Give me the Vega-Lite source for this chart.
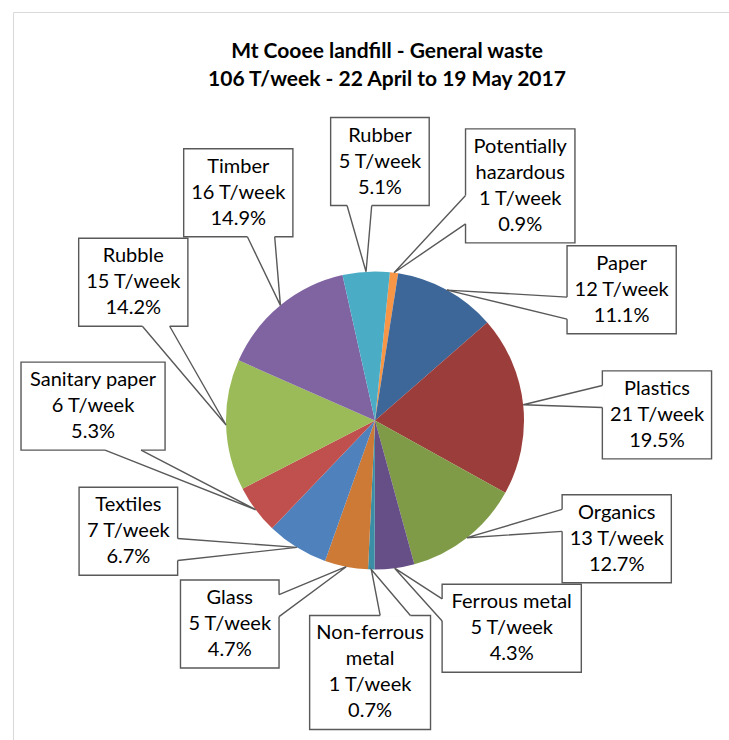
{
  "$schema": "https://vega.github.io/schema/vega-lite/v6.json",
  "width": 716,
  "height": 728,
  "autosize": {"type": "none"},
  "padding": {"left": 13, "top": 12, "right": 0, "bottom": 0},
  "background": "white",
  "title": {
    "text": ["Mt Cooee landfill - General waste", "106 T/week - 22 April to 19 May 2017"],
    "font": "Lato",
    "fontSize": 21,
    "fontWeight": "bold",
    "color": "#000000",
    "anchor": "middle",
    "frame": "group",
    "offset": -78,
    "dx": 16,
    "lineHeight": 28
  },
  "data": {
    "values": [
      {"category": "Potentially hazardous", "tonnes": 1, "pct": 0.9},
      {"category": "Paper", "tonnes": 12, "pct": 11.1},
      {"category": "Plastics", "tonnes": 21, "pct": 19.5},
      {"category": "Organics", "tonnes": 13, "pct": 12.7},
      {"category": "Ferrous metal", "tonnes": 5, "pct": 4.3},
      {"category": "Non-ferrous metal", "tonnes": 1, "pct": 0.7},
      {"category": "Glass", "tonnes": 5, "pct": 4.7},
      {"category": "Textiles", "tonnes": 7, "pct": 6.7},
      {"category": "Sanitary paper", "tonnes": 6, "pct": 5.3},
      {"category": "Rubble", "tonnes": 15, "pct": 14.2},
      {"category": "Timber", "tonnes": 16, "pct": 14.9},
      {"category": "Rubber", "tonnes": 5, "pct": 5.1}
    ]
  },
  "transform": [
    {"window": [{"op": "row_number", "as": "seq"}]},
    {"joinaggregate": [{"op": "sum", "field": "pct", "as": "total"}]},
    {"window": [{"op": "sum", "field": "pct", "as": "cum"}], "sort": [{"field": "seq"}], "frame": [null, 0]},
    {"calculate": "0.1 + 2 * PI * (datum.cum - datum.pct / 2) / datum.total", "as": "mid"},
    {"calculate": "149 * sin(datum.mid)", "as": "tx"},
    {"calculate": "149 * cos(datum.mid)", "as": "ty"},
    {"calculate": "length(datum.category) > 15 ? substring(datum.category, 0, indexof(datum.category, ' ')) : datum.category", "as": "n1"},
    {"calculate": "length(datum.category) > 15 ? substring(datum.category, indexof(datum.category, ' ') + 1) : ''", "as": "n2"},
    {"calculate": "datum.tonnes + ' T/week'", "as": "tl"},
    {"calculate": "format(datum.pct, '.1f') + '%'", "as": "pl"},
    {"calculate": "datum.n2 ? datum.n1 + '\\n' + datum.n2 + '\\n' + datum.tl + '\\n' + datum.pl : datum.n1 + '\\n' + datum.tl + '\\n' + datum.pl", "as": "lines"},
    {"calculate": "datum.n2 ? 4 : 3", "as": "nl"},
    {"calculate": "10.63 * length(datum.n1) - 6.0 * (length(datum.n1) - length(replace(datum.n1, regexp('[ijl .]', 'g'), ''))) - 3.26 * (length(datum.n1) - length(replace(datum.n1, regexp('[trf/-]', 'g'), ''))) + 5.79 * (length(datum.n1) - length(replace(datum.n1, regexp('[wmMOG%]', 'g'), '')))", "as": "e1"},
    {"calculate": "10.63 * length(datum.n2) - 6.0 * (length(datum.n2) - length(replace(datum.n2, regexp('[ijl .]', 'g'), ''))) - 3.26 * (length(datum.n2) - length(replace(datum.n2, regexp('[trf/-]', 'g'), ''))) + 5.79 * (length(datum.n2) - length(replace(datum.n2, regexp('[wmMOG%]', 'g'), '')))", "as": "e2"},
    {"calculate": "10.63 * length(datum.tl) - 6.0 * (length(datum.tl) - length(replace(datum.tl, regexp('[ijl .]', 'g'), ''))) - 3.26 * (length(datum.tl) - length(replace(datum.tl, regexp('[trf/-]', 'g'), ''))) + 5.79 * (length(datum.tl) - length(replace(datum.tl, regexp('[wmMOG%]', 'g'), '')))", "as": "e3"},
    {"calculate": "max(datum.e1, datum.e2, datum.e3) + 17", "as": "bw"},
    {"calculate": "26 * datum.nl + 10", "as": "bh"},
    {"calculate": "(1 + 30 * datum.seq) * PI / 180", "as": "la"},
    {"calculate": "282 * sin(datum.la)", "as": "bx"},
    {"calculate": "10 + (205 + datum.bh / 2) * cos(datum.la)", "as": "by"},
    {"calculate": "datum.bx - datum.bw / 2", "as": "bx1"},
    {"calculate": "datum.bx + datum.bw / 2", "as": "bx2"},
    {"calculate": "datum.by - datum.bh / 2", "as": "by1"},
    {"calculate": "datum.by + datum.bh / 2", "as": "by2"},
    {"calculate": "datum.tx - datum.bx", "as": "dx"},
    {"calculate": "datum.by - datum.ty", "as": "dys"},
    {"calculate": "abs(datum.dys) > abs(datum.dx * datum.bh / datum.bw)", "as": "vert"},
    {"calculate": "datum.vert ? datum.bx1 + datum.bw * (datum.dx > 0 ? 7 : 2) / 12 : (datum.dx > 0 ? datum.bx2 : datum.bx1)", "as": "b1x"},
    {"calculate": "datum.vert ? datum.bx1 + datum.bw * (datum.dx > 0 ? 10 : 5) / 12 : (datum.dx > 0 ? datum.bx2 : datum.bx1)", "as": "b2x"},
    {"calculate": "datum.vert ? (datum.dys > 0 ? datum.by1 : datum.by2) : datum.by2 - datum.bh * (datum.dys > 0 ? 7 : 2) / 12", "as": "b1y"},
    {"calculate": "datum.vert ? (datum.dys > 0 ? datum.by1 : datum.by2) : datum.by2 - datum.bh * (datum.dys > 0 ? 10 : 5) / 12", "as": "b2y"}
  ],
  "config": {
    "view": {"stroke": null},
    "axis": {"domainColor": "#D9D9D9", "domainWidth": 1, "ticks": false, "labels": false, "grid": false}
  },
  "layer": [
    {
      "mark": {"type": "arc", "outerRadius": 149},
      "encoding": {
        "theta": {"field": "pct", "type": "quantitative", "stack": "normalize", "scale": {"range": [0.1, 6.3832]}},
        "order": {"field": "seq", "type": "quantitative"},
        "color": {
          "field": "category",
          "type": "nominal",
          "legend": null,
          "scale": {
            "domain": ["Potentially hazardous", "Paper", "Plastics", "Organics", "Ferrous metal", "Non-ferrous metal", "Glass", "Textiles", "Sanitary paper", "Rubble", "Timber", "Rubber"],
            "range": ["#F79646", "#3D6699", "#9B3D3A", "#7F9B47", "#664F86", "#3A8EA6", "#CC7A36", "#4F81BD", "#C0504D", "#9BBB59", "#8064A2", "#4BACC6"]
          }
        },
        "x": {"datum": 0, "type": "quantitative", "scale": {"domain": [-362, 354], "nice": false, "zero": false}, "axis": {"orient": "top", "title": null}},
        "y": {"datum": 0, "type": "quantitative", "scale": {"domain": [-319.5, 408.5], "nice": false, "zero": false}, "axis": {"orient": "left", "title": null}}
      }
    },
    {
      "mark": {"type": "rect", "fill": "white", "stroke": "#595959", "strokeWidth": 1.4},
      "encoding": {
        "x": {"field": "bx1", "type": "quantitative", "axis": {"orient": "top", "title": null}},
        "x2": {"field": "bx2"},
        "y": {"field": "by1", "type": "quantitative", "axis": {"orient": "left", "title": null}},
        "y2": {"field": "by2"}
      }
    },
    {
      "mark": {"type": "rule", "stroke": "white", "strokeWidth": 3},
      "encoding": {
        "x": {"field": "b1x", "type": "quantitative", "axis": {"orient": "top", "title": null}},
        "x2": {"field": "b2x"},
        "y": {"field": "b1y", "type": "quantitative", "axis": {"orient": "left", "title": null}},
        "y2": {"field": "b2y"}
      }
    },
    {
      "transform": [
        {"calculate": "[datum.b1x, datum.tx, datum.b2x]", "as": "px"},
        {"calculate": "[datum.b1y, datum.ty, datum.b2y]", "as": "py"},
        {"calculate": "[0, 1, 2]", "as": "k"},
        {"flatten": ["px", "py", "k"]}
      ],
      "mark": {"type": "line", "stroke": "#595959", "strokeWidth": 1.4, "strokeJoin": "miter"},
      "encoding": {
        "x": {"field": "px", "type": "quantitative", "axis": {"orient": "top", "title": null}},
        "y": {"field": "py", "type": "quantitative", "axis": {"orient": "left", "title": null}},
        "detail": {"field": "category", "type": "nominal"},
        "order": {"field": "k", "type": "quantitative"}
      }
    },
    {
      "mark": {"type": "text", "font": "Lato", "fontSize": 20, "lineHeight": 26, "lineBreak": "\n", "align": "center", "baseline": "line-top", "dy": 5, "fill": "#000000"},
      "encoding": {
        "x": {"field": "bx", "type": "quantitative", "axis": {"orient": "top", "title": null}},
        "y": {"field": "by2", "type": "quantitative", "axis": {"orient": "left", "title": null}},
        "text": {"field": "lines", "type": "nominal"}
      }
    }
  ]
}
